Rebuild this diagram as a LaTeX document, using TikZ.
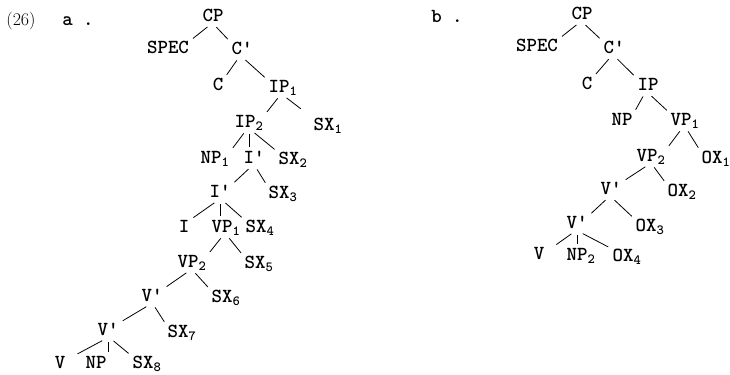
\documentclass[tikz,border=0pt]{standalone}
\usepackage{fontspec}

\newcommand{\sbs}[1]{\textsubscript{#1}}
\newcommand{\pri}{\textquotesingle}

\begin{document}
\begin{tikzpicture}[x=1bp, y=-1bp,
    lbl/.style={font=\ttfamily\bfseries\fontsize{20}{22}\selectfont, inner sep=1.5bp, text height=11bp, text depth=3bp},
    num/.style={font=\rmfamily\fontsize{18}{20}\selectfont, inner sep=0pt},
    branch/.style={line width=0.8bp, shorten <=2bp, shorten >=3bp}
]
    \useasboundingbox (0,0) rectangle (730,374);

    \node[num] (ex) at (21,21) {(26)};
    \node[lbl] (tag a) at (78,21) {a .};
    \node[lbl] (tag b) at (447,18) {b .};

    % tree a
    \node[lbl] (cpa) at (213,17) {CP};
    \node[lbl] (speca) at (168,49) {SPEC};
    \node[lbl] (cbara) at (242,50) {C\pri};
    \node[lbl] (ca) at (218,86) {C};
    \node[lbl] (ipa1) at (283,88) {IP\sbs{1}};
    \node[lbl] (ipa2) at (249,123) {IP\sbs{2}};
    \node[lbl] (sxa1) at (328,126) {SX\sbs{1}};
    \node[lbl] (npa1) at (215,159) {NP\sbs{1}};
    \node[lbl] (ibara1) at (254,159) {I\pri};
    \node[lbl] (sxa2) at (293,160) {SX\sbs{2}};
    \node[lbl] (ibara2) at (220,193) {I\pri};
    \node[lbl] (sxa3) at (283,194) {SX\sbs{3}};
    \node[lbl] (ia) at (184,228) {I};
    \node[lbl] (vpa1) at (226,228) {VP\sbs{1}};
    \node[lbl] (sxa4) at (260,228) {SX\sbs{4}};
    \node[lbl] (vpa2) at (192,263) {VP\sbs{2}};
    \node[lbl] (sxa5) at (259,264) {SX\sbs{5}};
    \node[lbl] (vbara1) at (152,297) {V\pri};
    \node[lbl] (sxa6) at (226,298) {SX\sbs{6}};
    \node[lbl] (vbara2) at (108,331) {V\pri};
    \node[lbl] (sxa7) at (182,333) {SX\sbs{7}};
    \node[lbl] (va) at (60,364) {V};
    \node[lbl] (npa) at (96,364) {NP};
    \node[lbl] (sxa8) at (147,364) {SX\sbs{8}};

    \draw[branch] ([xshift=-4bp]cpa.south) -- (speca.north east);
    \draw[branch] ([xshift=2bp]cpa.south) -- (cbara.north west);
    \draw[branch] ([xshift=-4bp]cbara.south) -- (ca.north east);
    \draw[branch] ([xshift=2bp]cbara.south) -- (ipa1.north west);
    \draw[branch] ([xshift=-4bp]ipa1.south) -- (ipa2.north east);
    \draw[branch, shorten >=14bp] ([xshift=2bp]ipa1.south) -- (sxa1.north west);
    \draw[branch] ([xshift=-4bp]ipa2.south) -- (npa1.north east);
    \draw[branch] (ipa2.south) -- (ipa2.south |- ibara1.north);
    \draw[branch] ([xshift=4bp]ipa2.south) -- (sxa2.north west);
    \draw[branch] ([xshift=-4bp]ibara1.south) -- (ibara2.north east);
    \draw[branch] ([xshift=2bp]ibara1.south) -- (sxa3.north west);
    \draw[branch] ([xshift=-4bp]ibara2.south) -- (ia.north east);
    \draw[branch] (ibara2.south) -- (ibara2.south |- vpa1.north);
    \draw[branch] ([xshift=4bp]ibara2.south) -- (sxa4.north west);
    \draw[branch] ([xshift=-4bp]vpa1.south) -- (vpa2.north east);
    \draw[branch] ([xshift=2bp]vpa1.south) -- (sxa5.north west);
    \draw[branch] ([xshift=-4bp]vpa2.south) -- (vbara1.north east);
    \draw[branch] ([xshift=2bp]vpa2.south) -- (sxa6.north west);
    \draw[branch] ([xshift=-4bp]vbara1.south) -- (vbara2.north east);
    \draw[branch] ([xshift=2bp]vbara1.south) -- (sxa7.north west);
    \draw[branch] ([xshift=-4bp]vbara2.south) -- ([xshift=8bp]va.north east);
    \draw[branch] (vbara2.south) -- (vbara2.south |- npa.north);
    \draw[branch] ([xshift=4bp]vbara2.south) -- (sxa8.north west);

    % tree b
    \node[lbl] (cpb) at (582,15) {CP};
    \node[lbl] (specb) at (537,47) {SPEC};
    \node[lbl] (cbarb) at (614,49) {C\pri};
    \node[lbl] (cb) at (587,85) {C};
    \node[lbl] (ipb) at (648,86) {IP};
    \node[lbl] (npb) at (622,121) {NP};
    \node[lbl] (vpb1) at (685,121) {VP\sbs{1}};
    \node[lbl] (vpb2) at (651,157) {VP\sbs{2}};
    \node[lbl] (oxb1) at (716,159) {OX\sbs{1}};
    \node[lbl] (vbarb1) at (611,190) {V\pri};
    \node[lbl] (oxb2) at (682,192) {OX\sbs{2}};
    \node[lbl] (vbarb2) at (577,224) {V\pri};
    \node[lbl] (oxb3) at (650,227) {OX\sbs{3}};
    \node[lbl] (vb) at (539,255) {V};
    \node[lbl] (npb2) at (581,256) {NP\sbs{2}};
    \node[lbl] (oxb4) at (627,257) {OX\sbs{4}};

    \draw[branch] ([xshift=-4bp]cpb.south) -- (specb.north east);
    \draw[branch] ([xshift=2bp]cpb.south) -- (cbarb.north west);
    \draw[branch] ([xshift=-4bp]cbarb.south) -- (cb.north east);
    \draw[branch] ([xshift=2bp]cbarb.south) -- (ipb.north west);
    \draw[branch] ([xshift=-4bp]ipb.south) -- (npb.north east);
    \draw[branch] ([xshift=2bp]ipb.south) -- (vpb1.north west);
    \draw[branch] ([xshift=-4bp]vpb1.south) -- (vpb2.north east);
    \draw[branch] ([xshift=2bp]vpb1.south) -- (oxb1.north west);
    \draw[branch] ([xshift=-4bp]vpb2.south) -- (vbarb1.north east);
    \draw[branch] ([xshift=2bp]vpb2.south) -- (oxb2.north west);
    \draw[branch] ([xshift=-4bp]vbarb1.south) -- (vbarb2.north east);
    \draw[branch] ([xshift=2bp]vbarb1.south) -- (oxb3.north west);
    \draw[branch] ([xshift=-4bp]vbarb2.south) -- ([xshift=8bp]vb.north east);
    \draw[branch] (vbarb2.south) -- (vbarb2.south |- npb2.north);
    \draw[branch] ([xshift=4bp]vbarb2.south) -- (oxb4.north west);
\end{tikzpicture}
\end{document}
